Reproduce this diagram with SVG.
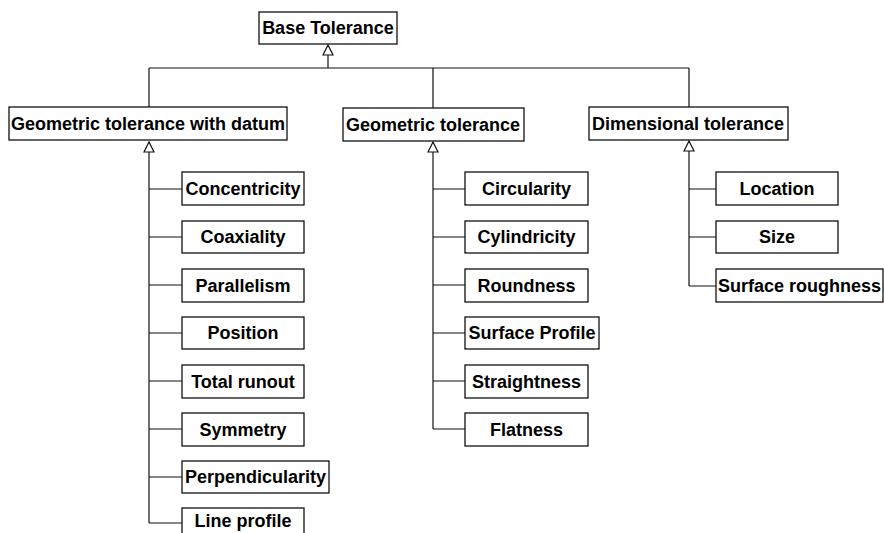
<svg xmlns="http://www.w3.org/2000/svg" width="884" height="533" viewBox="0 0 884 533">
<style>
.box{fill:#fff;stroke:#111;stroke-width:1.3}
.t{font-family:"Liberation Sans",Arial,sans-serif;font-weight:bold;font-size:18px;fill:#000;text-anchor:middle}
.c{fill:none;stroke:#111;stroke-width:1.2}
</style>
<defs>
<marker id="gen" markerUnits="userSpaceOnUse" markerWidth="12" markerHeight="12" refX="10" refY="5" orient="auto" viewBox="-1 -1 12 12">
<path d="M0,0 L10,5 L0,10 Z" fill="#fff" stroke="#111" stroke-width="1.2"/>
</marker>
</defs>
<rect width="884" height="533" fill="#fff"/>
<g id="connectors">
<path class="c" d="M328,68 V45" marker-end="url(#gen)"/>
<path class="c" d="M149,68 H689 M149,68 V107 M433,68 V108 M689,68 V107"/>
<path class="c" d="M149,523 V142" marker-end="url(#gen)"/>
<path class="c" d="M149,189 H182 M149,237 H182 M149,285 H182 M149,333 H182 M149,381 H182 M149,429 H182 M149,477 H182 M149,523 H182"/>
<path class="c" d="M433,429 V142" marker-end="url(#gen)"/>
<path class="c" d="M433,189 H465 M433,237 H465 M433,285 H465 M433,333 H465 M433,381 H465 M433,429 H465"/>
<path class="c" d="M689,286 V141" marker-end="url(#gen)"/>
<path class="c" d="M689,189 H716 M689,237 H716 M689,286 H716"/>
</g>
<g id="base"><rect class="box" x="259" y="12" width="138" height="32"/><text class="t" x="328" y="34">Base Tolerance</text></g>
<g id="gtd"><rect class="box" x="9" y="107" width="278" height="33"/><text class="t" x="148" y="130">Geometric tolerance with datum</text></g>
<g id="gt"><rect class="box" x="343" y="108" width="181" height="33"/><text class="t" x="433" y="131">Geometric tolerance</text></g>
<g id="dt"><rect class="box" x="589" y="107" width="199" height="33"/><text class="t" x="688" y="130">Dimensional tolerance</text></g>

<g id="concentricity"><rect class="box" x="182" y="172" width="122" height="33"/><text class="t" x="243" y="195">Concentricity</text></g>
<g id="coaxiality"><rect class="box" x="182" y="221" width="122" height="32"/><text class="t" x="243" y="243">Coaxiality</text></g>
<g id="parallelism"><rect class="box" x="182" y="269" width="122" height="33"/><text class="t" x="243" y="292">Parallelism</text></g>
<g id="position"><rect class="box" x="182" y="317" width="122" height="32"/><text class="t" x="243" y="339">Position</text></g>
<g id="totalrunout"><rect class="box" x="182" y="365" width="122" height="33"/><text class="t" x="243" y="388">Total runout</text></g>
<g id="symmetry"><rect class="box" x="182" y="413" width="122" height="33"/><text class="t" x="243" y="436">Symmetry</text></g>
<g id="perpendicularity"><rect class="box" x="182" y="461" width="147" height="32"/><text class="t" x="255.5" y="483">Perpendicularity</text></g>
<g id="lineprofile"><rect class="box" x="182" y="508" width="122" height="33"/><text class="t" x="243" y="527">Line profile</text></g>

<g id="circularity"><rect class="box" x="465" y="172" width="123" height="33"/><text class="t" x="526.5" y="195">Circularity</text></g>
<g id="cylindricity"><rect class="box" x="465" y="221" width="123" height="32"/><text class="t" x="526.5" y="243">Cylindricity</text></g>
<g id="roundness"><rect class="box" x="465" y="269" width="123" height="33"/><text class="t" x="526.5" y="292">Roundness</text></g>
<g id="surfaceprofile"><rect class="box" x="465" y="317" width="134" height="32"/><text class="t" x="532" y="339">Surface Profile</text></g>
<g id="straightness"><rect class="box" x="465" y="365" width="123" height="33"/><text class="t" x="526.5" y="388">Straightness</text></g>
<g id="flatness"><rect class="box" x="465" y="413" width="123" height="33"/><text class="t" x="526.5" y="436">Flatness</text></g>

<g id="location"><rect class="box" x="716" y="172" width="122" height="33"/><text class="t" x="777" y="195">Location</text></g>
<g id="size"><rect class="box" x="716" y="221" width="122" height="32"/><text class="t" x="777" y="243">Size</text></g>
<g id="surfaceroughness"><rect class="box" x="716" y="269" width="167" height="33"/><text class="t" x="799.5" y="292">Surface roughness</text></g>
</svg>
